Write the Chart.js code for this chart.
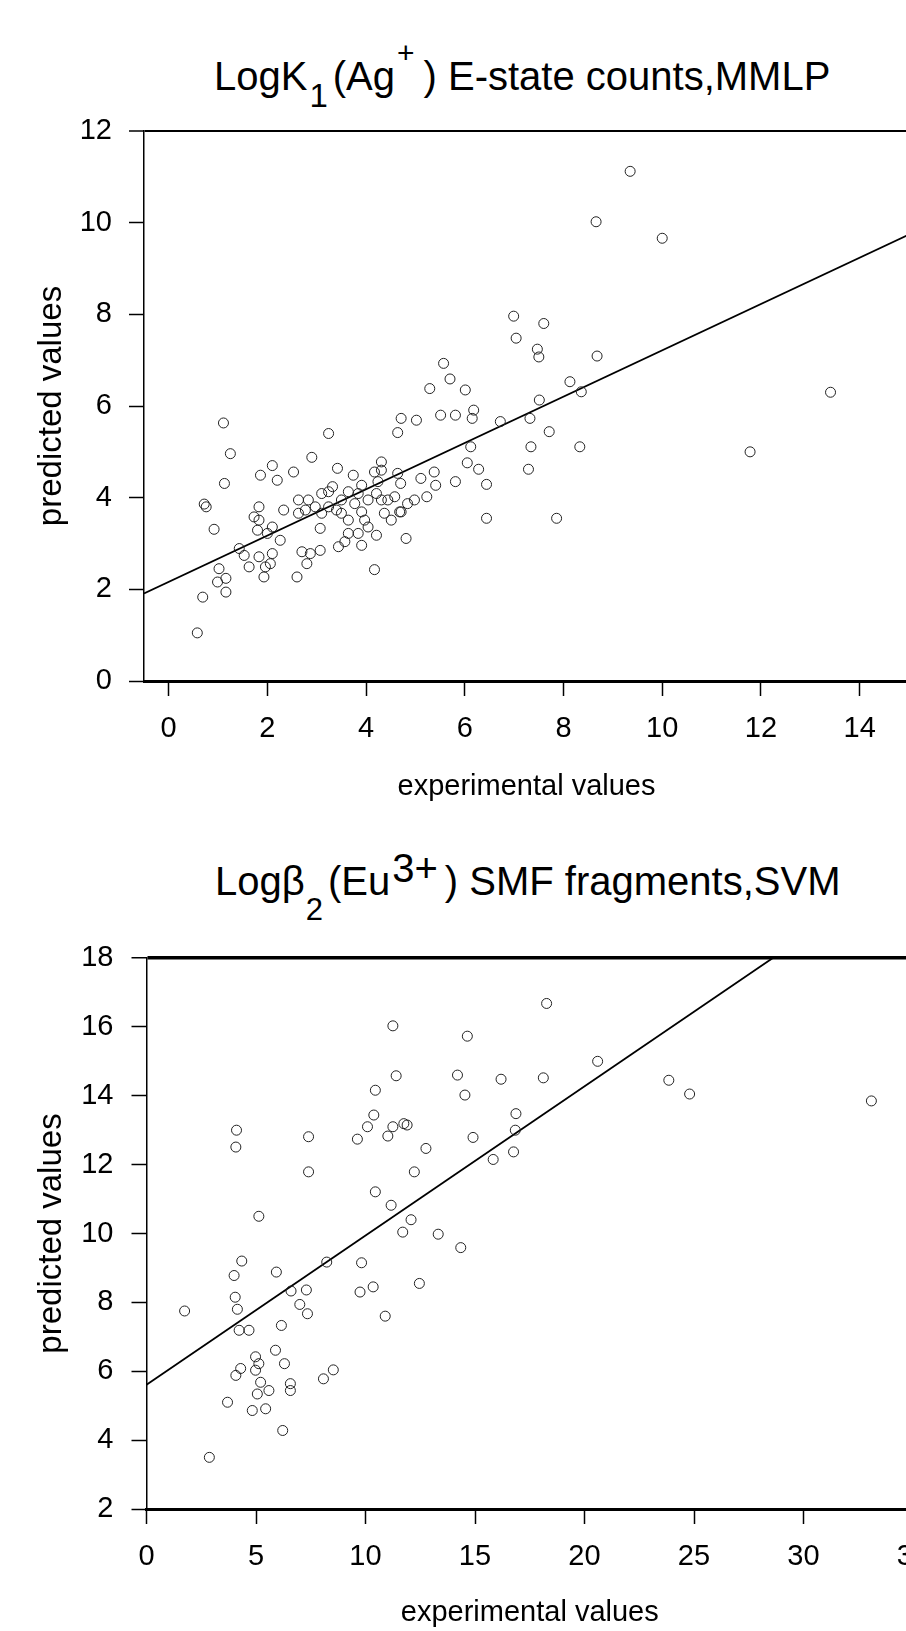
<!DOCTYPE html>
<html><head><meta charset="utf-8">
<script src="https://cdn.jsdelivr.net/npm/chart.js@4/dist/chart.umd.min.js"></script>
<style>
html,body{margin:0;padding:0;width:906px;height:1631px;overflow:hidden;background:#fff;}
.c{position:absolute;left:0;}
.ttl{position:absolute;font-family:'Liberation Sans',Arial,sans-serif;font-size:40px;line-height:40px;white-space:nowrap;color:#000;}
.ttl span{position:relative;}
</style></head><body>
<div class="ttl" style="left:214px;top:56px">LogK<span style="font-size:33px;top:17px;margin-left:2px;margin-right:5px">1</span>(Ag<span style="font-size:30px;top:-27px;margin-left:2px;margin-right:9px">+</span>) E-state counts,MMLP</div>
<div class="ttl" style="left:215px;top:861px">Logβ<span style="font-size:31px;top:25px;margin-left:1px;margin-right:5px">2</span>(Eu<span style="font-size:40px;top:-13px;margin-left:2px;margin-right:7px">3+</span>) SMF fragments,SVM</div>
<canvas id="c1" class="c" width="915" height="820" style="top:0;width:915px;height:820px"></canvas>
<canvas id="c2" class="c" width="919" height="811" style="top:820px;width:919px;height:811px"></canvas>
<script>
const FONT = "'Liberation Sans', Arial, sans-serif";

// ---- Top chart: LogK1(Ag+) E-state counts, MMLP ----
const expA = [
 6.99,7.60,7.04,7.47,7.50,5.57,5.70,5.29,6.01,8.13,
 8.36,7.51,7.32,6.72,5.51,5.81,6.18,6.15,4.71,5.02,
 4.64,7.71,8.33,7.34,7.29,6.12,6.05,6.28,6.44,6.44,
 7.86,5.81,5.38,5.11,5.41,5.23,4.84,4.68,4.81,4.70,
 4.64,4.31,4.31,4.17,3.74,3.42,3.24,2.90,2.53,2.10,
 1.86,2.20,1.11,1.25,1.13,0.76,0.92,1.83,1.83,1.80,
 2.10,2.33,2.63,2.83,3.10,3.24,2.77,3.07,3.24,3.40,
 3.64,3.84,3.50,3.64,3.91,3.97,4.21,4.24,4.44,4.37,
 4.51,4.71,4.21,3.91,3.57,3.44,3.64,3.84,4.04,4.17,
 3.07,2.87,2.70,2.80,2.60,1.43,1.53,1.63,1.83,1.96,
 1.93,2.10,2.06,2.26,1.02,0.99,1.16,1.16,0.69,3.32,
 3.50,3.77,4.04,3.91,4.31,4.58,4.98,2.97,3.10,2.63,
 1.73,2.00,0.72,9.35,8.66,10.00,8.68,11.78,13.41,0.58
];
const predA = [
 7.96,7.80,7.48,7.24,7.07,6.93,6.59,6.38,6.35,6.53,
 6.31,6.13,5.73,5.66,5.80,5.80,5.91,5.73,5.73,5.69,
 5.42,5.44,5.11,5.11,4.62,5.11,4.76,4.62,4.29,3.55,
 3.55,4.35,4.56,4.42,4.27,4.02,3.87,3.69,3.11,4.31,
 4.53,4.78,4.60,4.56,4.49,4.64,5.40,4.88,4.56,4.70,
 4.49,4.38,5.63,4.96,4.31,3.80,3.31,3.80,3.51,3.29,
 3.36,3.73,3.95,3.95,4.09,4.13,3.73,3.33,3.80,3.73,
 4.13,4.09,3.66,3.51,3.69,3.51,4.09,4.35,3.95,3.66,
 3.51,3.69,3.18,2.96,3.04,2.93,3.22,3.22,3.36,2.43,
 2.85,2.78,2.82,2.56,2.27,2.89,2.74,2.49,2.71,2.49,
 2.27,2.78,2.56,3.07,2.45,2.16,2.24,1.94,1.83,4.24,
 3.95,3.87,3.95,4.27,3.95,4.02,3.95,3.80,3.66,3.66,
 3.58,3.22,3.86,11.12,10.02,9.66,7.09,5.00,6.30,1.05
];
const fitAx = [-0.5, 15];
const fitAy = [1.91, 9.74];
const xTicksA = [0,2,4,6,8,10,12,14];
const yTicksA = [0,2,4,6,8,10,12];

// ---- Bottom chart: Logβ2(Eu3+) SMF fragments, SVM ----
const expB = [
 11.25,14.65,11.40,14.20,16.19,18.12,14.54,10.45,10.38,10.09,
 9.63,11.02,11.25,11.75,11.90,12.76,14.91,16.87,16.84,16.76,
 15.83,12.23,10.45,11.17,12.08,11.70,13.32,14.35,7.40,7.40,
 4.11,4.08,5.13,4.35,4.00,5.93,8.23,9.82,12.46,18.27,
 4.68,4.23,6.16,5.89,6.30,4.98,5.13,4.30,4.98,4.08,
 5.21,6.57,6.57,5.59,5.06,3.70,5.44,4.83,6.22,8.53,
 8.08,1.74,2.87,20.60,23.85,24.80,33.10,10.90,10.35,9.75,
 6.60,7.00,7.35,7.30,4.05,4.15
];
const predB = [
 16.03,15.73,14.58,14.60,14.48,14.52,14.02,14.16,13.44,13.10,
 12.74,12.83,13.10,13.19,13.15,12.47,12.79,13.48,13.00,12.37,
 12.15,11.79,11.21,10.82,10.40,10.04,9.98,9.59,11.79,12.81,
 13.00,12.51,10.50,9.20,8.78,8.88,9.17,9.15,8.55,16.68,
 7.19,7.19,7.33,6.61,6.22,6.42,6.22,6.08,6.03,5.88,
 5.68,5.64,5.44,5.44,5.34,5.10,4.91,4.86,4.28,6.04,
 5.78,7.75,3.50,15.00,14.45,14.05,13.85,7.60,8.45,8.30,
 8.33,7.94,7.67,8.36,8.15,7.80
];
const fitBx = [0, 28.6];
const fitBy = [5.61, 18.0];
const xTicksB = [0,5,10,15,20,25,30,35];
const yTicksB = [2,4,6,8,10,12,14,16,18];

function build(id, xs, ys, fx, fy, xTicks, yTicks, cfg) {
  const pts = xs.map((x, i) => ({x: x, y: ys[i]}));
  const fit = fx.map((x, i) => ({x: x, y: fy[i]}));
  return new Chart(document.getElementById(id), {
    type: 'scatter',
    data: { datasets: [
      { data: pts, pointStyle: 'circle', pointRadius: 5, pointBorderWidth: 1,
        pointBorderColor: '#222', pointBackgroundColor: 'rgba(0,0,0,0)', showLine: false },
      { type: 'line', data: fit, borderColor: '#000', borderWidth: 1.8, pointRadius: 0,
        fill: false, tension: 0 }
    ]},
    options: {
      responsive: false, animation: false, devicePixelRatio: 1,
      plugins: { legend: {display: false}, tooltip: {enabled: false}, title: {display: false} },
      layout: { padding: { top: cfg.top, left: 0, right: 0, bottom: 0 } },
      scales: {
        x: {
          type: 'linear', position: 'bottom', min: cfg.xmin, max: cfg.xmax,
          afterBuildTicks: s => { s.ticks = xTicks.map(v => ({value: v})); },
          afterFit: s => { s.height = cfg.xh; s.paddingLeft = 0; s.paddingRight = 0; },
          grid: { drawOnChartArea: false, drawTicks: true, tickLength: 15, tickWidth: 1.5, tickColor: '#000' },
          border: { display: true, color: '#000', width: 3 },
          ticks: { color: '#000', font: {family: FONT, size: 29}, padding: 16, maxRotation: 0, minRotation: 0, autoSkip: false },
          title: { display: true, text: 'experimental values', color: '#000',
                   font: {family: FONT, size: 29}, padding: {top: 0, bottom: cfg.xtPad} }
        },
        y: {
          type: 'linear', position: 'left', min: cfg.ymin, max: cfg.ymax,
          afterBuildTicks: s => { s.ticks = yTicks.map(v => ({value: v})); },
          afterFit: s => { s.width = cfg.yw; },
          grid: {
            drawOnChartArea: true,
            color: c => (c.tick && c.tick.value === cfg.ymax) ? '#000' : 'rgba(0,0,0,0)',
            lineWidth: c => (c.tick && c.tick.value === cfg.ymax) ? cfg.topW : 1,
            drawTicks: true, tickLength: 15, tickWidth: 1.5, tickColor: '#000'
          },
          border: { display: true, color: '#000', width: 1.5 },
          ticks: { color: '#000', font: {family: FONT, size: 29}, padding: cfg.ytPad },
          title: { display: true, text: 'predicted values', color: '#000',
                   font: {family: FONT, size: 33}, padding: {top: 32, bottom: 0} }
        }
      }
    }
  });
}

build('c1', expA, predA, fitAx, fitAy, xTicksA, yTicksA,
  {top: 131, xh: 139, yw: 144, xmin: -0.5, xmax: 15, ymin: 0, ymax: 12, topW: 2, xtPad: 15.6, ytPad: 17});
build('c2', expB, predB, fitBx, fitBy, xTicksB, yTicksB,
  {top: 138, xh: 122, yw: 146.5, xmin: 0, xmax: 35, ymin: 2, ymax: 18, topW: 3.5, xtPad: 1, ytPad: 18});
</script>
</body></html>
